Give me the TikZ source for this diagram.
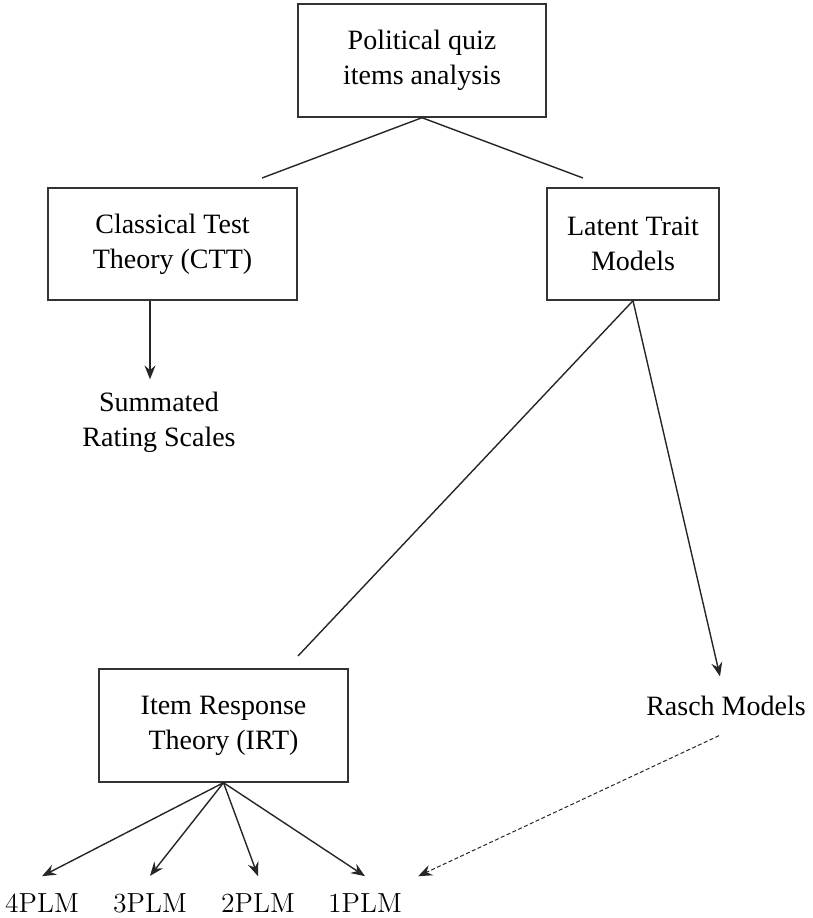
\documentclass[tikz,border=0pt]{standalone}
\usepackage{fontspec}
\newfontfamily\boxfont{Liberation Serif}
\usetikzlibrary{positioning,arrows.meta}
\tikzset{
  box/.style={draw=black!80, line width=0.7pt, align=center, inner sep=0pt,
    font=\boxfont\fontsize{14pt}{17.5pt}\selectfont},
  lbl/.style={align=center, inner sep=0pt, font=\boxfont\fontsize{14pt}{17.5pt}\selectfont},
  plm/.style={inner xsep=0pt, inner ysep=8.5pt, font=\fontsize{13.8pt}{16pt}\selectfont},
  edge/.style={line width=0.7pt, black!85},
  arr/.style={edge, -{Stealth[length=7pt,width=5.5pt,inset=2.4pt]}},
}

\begin{document}
\begin{tikzpicture}[x=0.5pt,y=-0.5pt]
  \useasboundingbox (0,0) rectangle (813,918);
  \node[box, minimum width=124pt, minimum height=56.5pt] (root) at (422,60.5) {Political quiz\\items analysis};
  \node[box, minimum width=124.5pt, minimum height=56pt] (ctt) at (172.5,244) {Classical Test\\Theory (CTT)};
  \node[box, minimum width=86pt, minimum height=56pt] (ltm) at (633,244) {Latent Trait\\Models};
  \node[box, minimum width=124.5pt, minimum height=56.5pt] (irt) at (223.5,725.5) {Item Response\\Theory (IRT)};
  \node[lbl] (srs) at (159,422) {Summated\\Rating Scales};
  \node[lbl, inner ysep=9.7pt] (rasch) at (726,706) {Rasch Models};
  \foreach \n/\x in {4/42,3/150,2/258,1/365}
    \node[plm] (plm\n) at (\x,903) {\n PLM};
  % free ends of the plain lines
  \coordinate (cttend) at (262,178);
  \coordinate (ltmend) at (583,178);
  \coordinate (irtend) at (298,656);
  \draw[edge] (root.south) -- (cttend);
  \draw[edge] (root.south) -- (ltmend);
  \draw[edge] (ltm.south) -- (irtend);
  \draw[arr, shorten >=6pt] ([xshift=-11.25pt]ctt.south) -- ([xshift=-4.5pt]srs.north);
  \draw[arr] (ltm.south) -- ([xshift=-3pt]rasch.north);
  \foreach \n in {4,3,2,1}
    \draw[arr] (irt.south) -- (plm\n.north);
  \draw[arr, dash pattern=on 2pt off 1.2pt, line width=0.5pt] ([xshift=-3.5pt]rasch.south) -- ([xshift=8pt]plm1.north east);
\end{tikzpicture}
\end{document}
